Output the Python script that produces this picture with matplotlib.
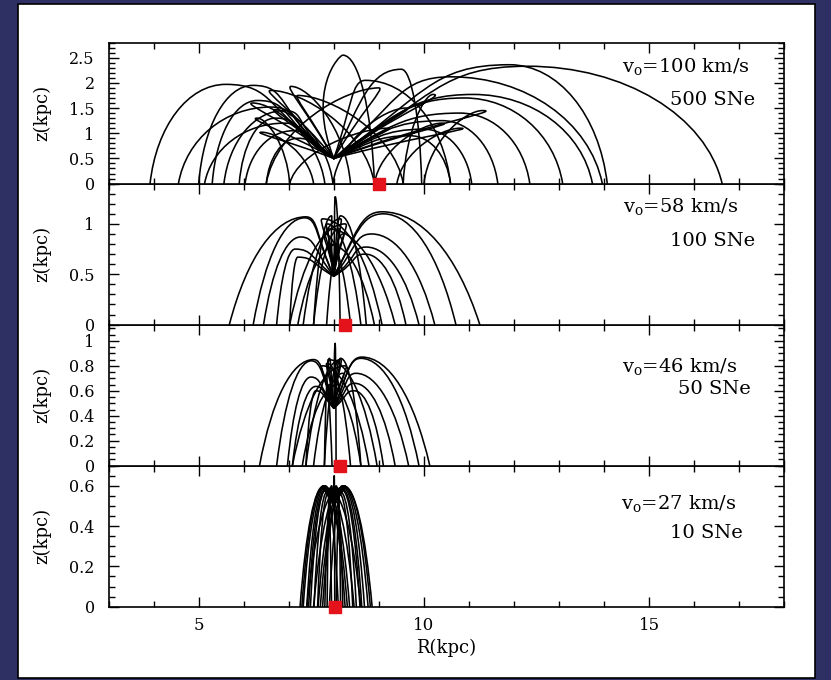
import numpy as np
import matplotlib
matplotlib.use("Agg")
import matplotlib.pyplot as plt
from matplotlib.path import Path
from matplotlib.patches import PathPatch, Rectangle
from matplotlib.ticker import MultipleLocator, FormatStrFormatter

plt.rcParams['font.family'] = ['DejaVu Serif']
plt.rcParams['mathtext.fontset'] = 'dejavuserif'

# ---------------------------------------------------------------- panel data
velocities = [100, 58, 46, 27]          # launch speed, km/s
sne_counts = [500, 100, 50, 10]         # number of supernovae
z_top = [2.8, 1.4, 1.13, 0.7]           # upper z limit of each panel
z_major = [0.5, 0.5, 0.2, 0.2]
z_minor = [0.1, 0.1, 0.05, 0.05]
launch_R = 8.0                          # kpc
launch_z = [0.5, 0.48, 0.46, 0.5]       # kpc
mean_landing_R = [9.0, 8.25, 8.14, 8.02]

# cloud trajectories: apex position, landing radius, initial radial lean
p1_apex_R = [5.6, 6.2, 6.6, 6.9, 6.9, 7.1, 7.2,
             7.05, 6.7, 6.4, 6.3, 7.2, 6.6,
             6.3, 6.7, 6.2,
             12.3, 11.9, 10.6, 11.1, 10.9, 10.8, 10.4, 10.0, 9.7,
             9.5, 10.2, 10.4, 9.6, 9.2, 9.0,
             10.8, 11.3,
             8.2, 8.7]
p1_apex_z = [1.97, 1.95, 1.52, 1.45, 1.2, 1.05, 0.9,
             1.93, 1.47, 1.02, 1.3, 1.75, 1.85,
             1.65, 1.3, 1.6,
             2.33, 2.36, 2.12, 1.77, 1.70, 1.40, 1.25, 1.08, 0.95,
             2.27, 1.77, 1.2, 1.5, 1.1, 1.9,
             1.1, 1.45,
             2.55, 2.05]
p1_land_R = [3.92, 5.0, 4.55, 5.56, 5.13, 6.03, 6.5,
             8.37, 7.98, 7.55, 7.02, 9.54, 8.9,
             5.3, 5.9, 7.8,
             16.62, 14.07, 13.96, 13.74, 13.08, 12.35, 11.64, 11.06, 10.59,
             9.95, 9.54, 8.9, 7.98, 7.02, 6.5,
             9.4, 10.0,
             8.9, 10.59]
p1_lean = [-1.5, -1.3, -1.0, -0.9, -0.8, -0.7, -0.6,
           -0.6, -0.8, -1.0, -1.05, -0.5, -0.8,
           -1.2, -0.9, -1.0,
           2.2, 2.0, 1.4, 1.4, 1.3, 1.2, 1.0, 0.9, 0.8,
           0.6, 1.3, 1.4, 0.95, 0.75, 0.6,
           1.6, 1.8,
           -0.6, 0.4]

p2_apex_R = [7.38, 7.35, 7.26, 7.14, 7.2,
             9.07, 9.1, 8.84, 8.72, 8.7,
             8.03, 7.95, 8.15,
             7.85, 7.8, 7.9, 7.75, 7.88,
             8.15, 8.2, 8.1, 8.25, 8.12]
p2_apex_z = [1.07, 1.06, 0.87, 0.75, 0.67,
             1.12, 1.10, 0.90, 0.77, 0.70,
             1.27, 1.08, 1.08,
             1.00, 0.90, 0.80, 1.05, 0.95,
             1.05, 0.90, 0.80, 1.00, 0.95]
p2_land_R = [5.68, 6.21, 6.44, 6.73, 7.02,
             11.24, 10.71, 10.24, 9.89, 9.60,
             8.14, 7.55, 8.72,
             8.60, 8.37, 8.90, 9.07, 9.36,
             7.32, 7.84, 7.20, 7.02, 7.55]
p2_lean = [-0.4, -0.4, -0.45, -0.5, -0.5,
           0.5, 0.5, 0.5, 0.55, 0.55,
           0.02, -0.1, 0.05,
           -0.05, -0.08, -0.04, -0.1, -0.05,
           0.05, 0.08, 0.04, 0.1, 0.05]

p3_apex_R = [7.55, 7.5, 7.49, 7.6, 7.6,
             8.62, 8.6, 8.49, 8.46, 8.45,
             8.03, 7.9, 8.15,
             7.85, 7.8, 7.9, 7.75, 7.88,
             8.15, 8.2, 8.1, 8.25, 8.12]
p3_apex_z = [0.85, 0.84, 0.71, 0.635, 0.6,
             0.87, 0.86, 0.74, 0.66, 0.60,
             0.98, 0.86, 0.86,
             0.82, 0.72, 0.65, 0.80, 0.85,
             0.85, 0.74, 0.65, 0.80, 0.84]
p3_land_R = [6.35, 6.73, 6.97, 7.08, 7.38,
             10.13, 9.89, 9.66, 9.36, 9.1,
             8.05, 7.79, 8.6,
             8.37, 7.96, 8.60, 8.78, 8.96,
             7.38, 7.55, 7.30, 7.08, 7.79]
p3_lean = [-0.25, -0.25, -0.3, -0.25, -0.25,
           0.3, 0.3, 0.3, 0.3, 0.3,
           0.01, -0.08, 0.05,
           -0.05, -0.08, -0.04, -0.1, -0.05,
           0.05, 0.08, 0.04, 0.1, 0.05]

p4_apex_R = [7.78, 7.80, 7.79, 7.82, 7.85, 7.87, 7.76, 7.81,
             8.22, 8.20, 8.21, 8.18, 8.15, 8.13, 8.24, 8.19,
             8.01,
             7.78, 7.80, 7.83, 7.86, 7.90, 7.77, 7.84,
             8.22, 8.20, 8.17, 8.14, 8.10, 8.23, 8.16,
             7.95, 8.05, 7.92, 8.08]
p4_apex_z = [0.60, 0.60, 0.59, 0.58, 0.57, 0.56, 0.595, 0.585,
             0.60, 0.60, 0.59, 0.58, 0.57, 0.56, 0.595, 0.585,
             0.65,
             0.60, 0.59, 0.58, 0.57, 0.58, 0.60, 0.59,
             0.60, 0.59, 0.58, 0.57, 0.58, 0.60, 0.59,
             0.60, 0.60, 0.59, 0.59]
p4_land_R = [7.25, 7.32, 7.40, 7.48, 7.56, 7.64, 7.29, 7.44,
             8.85, 8.76, 8.68, 8.58, 8.50, 8.42, 8.81, 8.62,
             8.02,
             8.10, 8.25, 8.35, 7.95, 8.60, 8.30, 8.45,
             7.90, 7.75, 7.65, 8.05, 7.40, 7.70, 7.55,
             7.80, 8.20, 7.85, 8.15]
p4_lean = [-0.12, -0.12, -0.12, -0.1, -0.1, -0.08, -0.13, -0.11,
           0.12, 0.12, 0.12, 0.1, 0.1, 0.08, 0.13, 0.11,
           0.0,
           -0.1, -0.1, -0.09, -0.08, -0.06, -0.1, -0.09,
           0.1, 0.1, 0.09, 0.08, 0.06, 0.1, 0.09,
           -0.04, 0.04, -0.06, 0.06]

panels = [
    (p1_apex_R, p1_apex_z, p1_land_R, p1_lean),
    (p2_apex_R, p2_apex_z, p2_land_R, p2_lean),
    (p3_apex_R, p3_apex_z, p3_land_R, p3_lean),
    (p4_apex_R, p4_apex_z, p4_land_R, p4_lean),
]

# ---------------------------------------------------------------- styling
roundness = [0.75, 0.3, 0.3, 0.25]      # 0 = parabolic fall, 1 = elliptic fall
tight_loops = [True, False, False, False]
label_pos = [((0.949, 0.828), (0.957, 0.594)),
             ((0.932, 0.840), (0.957, 0.592)),
             ((0.930, 0.704), (0.951, 0.544)),
             ((0.929, 0.735), (0.939, 0.526))]


def trajectory(r0, z0, ra, za, rl, lean, rnd, tight):
    """Two cubic Bezier pieces: launch -> apex -> landing on the plane."""
    heading = np.sign(rl - ra)
    if heading == 0:
        heading = 1.0
    turned = (ra - r0) * (rl - ra) < 0 and abs(ra - r0) > 0.05
    w = abs(rl - ra)
    if turned and tight:
        half_up = 0.15 * abs(ra - r0)
        kb = 0.3
    else:
        half_up = 0.45 * max(abs(ra - r0), 0.04)
        kb = 1 / 3 + rnd * (0.552 - 1 / 3)
    kz = 2 / 3 + rnd * (0.552 - 2 / 3)
    verts = [(r0, z0),
             (r0 + lean, z0 + 0.66 * (za - z0)),
             (ra - heading * half_up, za),
             (ra, za),
             (ra + heading * kb * w, za),
             (rl - heading * (1 - rnd) * w / 3, kz * za),
             (rl, 0.0)]
    codes = [Path.MOVETO] + [Path.CURVE4] * 6
    return Path(verts, codes)


fig = plt.figure(figsize=(8.31, 6.80), dpi=100)
fig.patch.set_facecolor('#2e2f63')
fig.add_artist(Rectangle((0.0217, 0.003), 0.959, 0.991,
                         transform=fig.transFigure, facecolor='white',
                         edgecolor='black', lw=1.2, zorder=-1))

left, width = 0.1307, 0.8131
height = 0.2074
bottom0 = 0.1078

for i in range(4):
    ax = fig.add_axes([left, bottom0 + (3 - i) * height, width, height])
    ax.set_zorder(10 - i)
    apex_R, apex_z, land_R, lean = panels[i]
    for ra, za, rl, ln in zip(apex_R, apex_z, land_R, lean):
        p = trajectory(launch_R, launch_z[i], ra, za, rl, ln,
                       roundness[i], tight_loops[i])
        ax.add_patch(PathPatch(p, facecolor='none', edgecolor='black',
                               lw=1.15, capstyle='round', joinstyle='round'))

    ax.plot([mean_landing_R[i]], [0], 's', color='#e3121b', mec='#e3121b',
            ms=8.5, clip_on=False, zorder=6)

    ax.set_xlim(3, 18)
    ax.set_ylim(0, z_top[i])
    ax.xaxis.set_major_locator(MultipleLocator(5))
    ax.xaxis.set_minor_locator(MultipleLocator(1))
    ax.yaxis.set_major_locator(MultipleLocator(z_major[i]))
    ax.yaxis.set_minor_locator(MultipleLocator(z_minor[i]))
    ax.yaxis.set_major_formatter(FormatStrFormatter('%g'))
    ax.xaxis.set_major_formatter(FormatStrFormatter('%g'))
    ax.tick_params(which='both', direction='in', top=True, right=True,
                   width=1.0, color='black')
    ax.tick_params(which='major', length=7)
    ax.tick_params(which='minor', length=4)
    ax.tick_params(axis='y', labelsize=11.5, pad=10)
    ax.tick_params(axis='x', labelsize=12, pad=7.5)
    for s in ax.spines.values():
        s.set_linewidth(1.2)
    if i < 3:
        ax.tick_params(axis='x', labelbottom=False)
    else:
        ax.set_xlabel('R(kpc)', fontsize=13, va='center')
        ax.xaxis.set_label_coords(0.5, -0.2935)

    ax.set_ylabel('z(kpc)', fontsize=13, va='center')
    ax.yaxis.set_label_coords(-0.099, 0.5)

    (vx, vy), (sx, sy) = label_pos[i]
    ax.text(vx, vy, r'v$_{\rm o}$=%d km/s' % velocities[i], transform=ax.transAxes,
            ha='right', va='center', fontsize=14)
    ax.text(sx, sy, '%d SNe' % sne_counts[i], transform=ax.transAxes,
            ha='right', va='center', fontsize=14)

fig.savefig('out.png', dpi=100, facecolor=fig.get_facecolor())
